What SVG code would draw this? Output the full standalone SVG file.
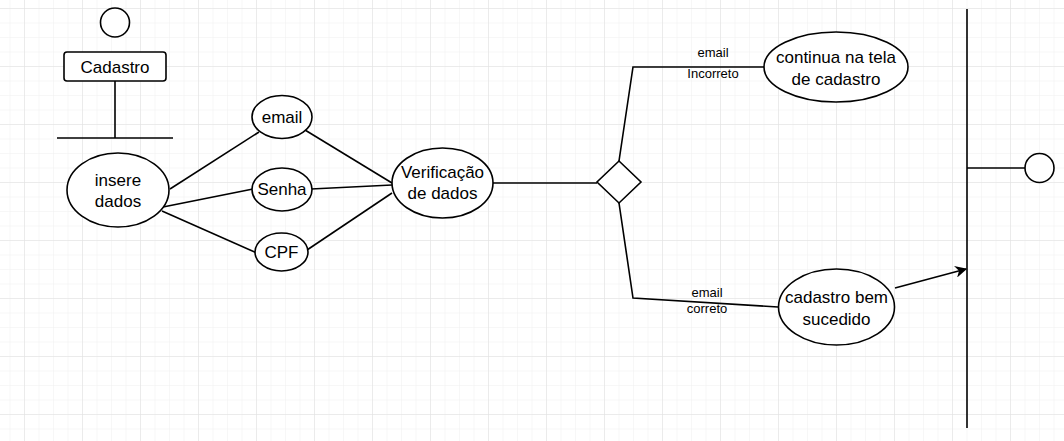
<svg xmlns="http://www.w3.org/2000/svg" width="1064" height="441" viewBox="0 0 1064 441">
<defs>
<pattern id="minor" width="14.5" height="14.5" patternUnits="userSpaceOnUse" x="9.5" y="8">
<path d="M0 0 H14.5 M0 0 V14.5" fill="none" stroke="#f0f0f0" stroke-width="1"/>
</pattern>
<pattern id="major" width="58" height="58" patternUnits="userSpaceOnUse" x="24" y="8">
<path d="M0 0 H58 M0 0 V58" fill="none" stroke="#e0e0e0" stroke-width="1"/>
</pattern>
<marker id="arrow" viewBox="0 0 10 10" refX="9" refY="5" markerWidth="12" markerHeight="12" markerUnits="userSpaceOnUse" orient="auto">
<path d="M0 0 L10 5 L0 10 L3 5 Z" fill="#000"/>
</marker>
<style>
.s{fill:#fff;stroke:#000;stroke-width:1.6}
.l{fill:none;stroke:#000;stroke-width:1.6}
.t{font-family:"Liberation Sans",Arial,sans-serif;font-size:17px;fill:#000;text-anchor:middle}
.sm{font-family:"Liberation Sans",Arial,sans-serif;font-size:13px;fill:#000;text-anchor:middle}
</style>
</defs>
<rect width="1064" height="441" fill="#fff"/>
<rect width="1064" height="441" fill="url(#minor)"/>
<rect width="1064" height="441" fill="url(#major)"/>

<g id="connectors">
<path class="l" d="M115 81 V138 M57 138 H173"/>
<path class="l" d="M170 189 L259 132"/>
<path class="l" d="M163 207 L253 189"/>
<path class="l" d="M162 211 L257 253"/>
<path class="l" d="M305 130 L392 183"/>
<path class="l" d="M311 189 L392 185"/>
<path class="l" d="M307 250 L392 193"/>
<path class="l" d="M493 183 H597"/>
<path class="l" d="M619 161 L633 67 H764"/>
<path class="l" d="M619 203 L633 298 L778 307"/>
<path class="l" d="M895 288 L966 269" marker-end="url(#arrow)"/>
<path class="l" d="M967 9 V428" stroke-width="2"/>
<path class="l" d="M967 168 H1025"/>
<text class="sm" x="713" y="57">email</text>
<text class="sm" x="713" y="78">Incorreto</text>
<text class="sm" x="707" y="297">email</text>
<text class="sm" x="707" y="313">correto</text>
</g>

<g id="start">
<circle class="s" cx="115" cy="22.5" r="14.5"/>
</g>
<g id="cadastro">
<rect class="s" x="64" y="52" width="102" height="29" rx="3"/>
<text class="t" x="115" y="73">Cadastro</text>
</g>
<g id="insere">
<ellipse class="s" cx="118" cy="190" rx="51" ry="37"/>
<text class="t" x="118" y="186">insere</text>
<text class="t" x="118" y="207">dados</text>
</g>
<g id="email">
<ellipse class="s" cx="282" cy="117" rx="30" ry="21.5"/>
<text class="t" x="282" y="123">email</text>
</g>
<g id="senha">
<ellipse class="s" cx="282" cy="189.5" rx="30" ry="21.5"/>
<text class="t" x="282" y="195">Senha</text>
</g>
<g id="cpf">
<ellipse class="s" cx="281.5" cy="252" rx="26.5" ry="19"/>
<text class="t" x="281.5" y="258">CPF</text>
</g>
<g id="verificacao">
<ellipse class="s" cx="442.5" cy="183" rx="50.5" ry="35"/>
<text class="t" x="442.5" y="178">Verificação</text>
<text class="t" x="442.5" y="199">de dados</text>
</g>
<g id="decisao">
<path class="s" d="M619 161 L641 182 L619 203 L597 182 Z"/>
</g>
<g id="continua">
<ellipse class="s" cx="836" cy="67" rx="72" ry="35"/>
<text class="t" x="836" y="63">continua na tela</text>
<text class="t" x="836" y="85">de cadastro</text>
</g>
<g id="sucesso">
<ellipse class="s" cx="836.5" cy="307" rx="58" ry="38"/>
<text class="t" x="836.5" y="303">cadastro bem</text>
<text class="t" x="836.5" y="325">sucedido</text>
</g>
<g id="fim">
<circle class="s" cx="1039.5" cy="168" r="14.5"/>
</g>
</svg>
